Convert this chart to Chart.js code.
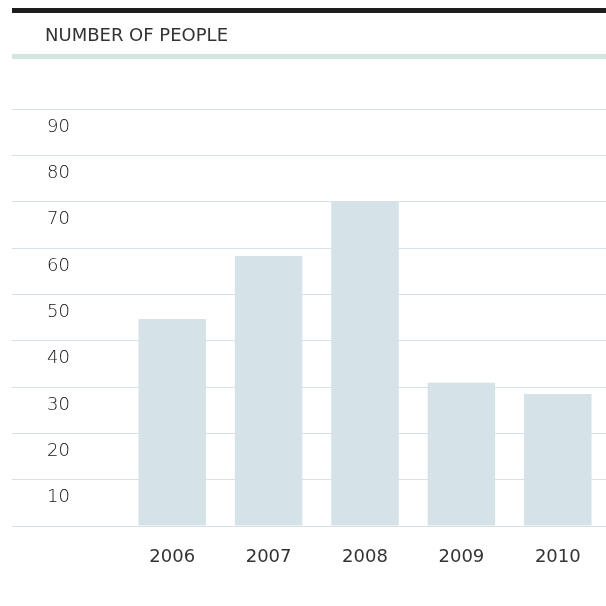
<!DOCTYPE html>
<html>
<head>
<meta charset="utf-8">
<title>Number of people</title>
<script src="https://cdn.jsdelivr.net/npm/chart.js@4"></script>
<style>
  html, body { margin: 0; padding: 0; background: #fff; overflow: hidden; }
  #wrap { position: relative; width: 606px; height: 606px; }
  #topBar { position: absolute; left: 12px; top: 8px; width: 594px; height: 5px; background: #1d1d1d; }
  #chartTitle {
    position: absolute; left: 45px; top: 26px;
    font: 18px/18px "DejaVu Sans", sans-serif; color: #333;
    white-space: nowrap;
  }
  #titleRule { position: absolute; left: 12px; top: 54px; width: 594px; height: 5px; background: #d3e6df; }
  #chart { position: absolute; left: 0; top: 0; }
</style>
</head>
<body>
<div id="wrap">
  <canvas id="chart" width="606" height="606"></canvas>
  <div id="topBar"></div>
  <div id="chartTitle">NUMBER OF PEOPLE</div>
  <div id="titleRule"></div>
</div>
<script>
// ------------------------------------------
// DATA
// ------------------------------------------
const years = ["2006", "2007", "2008", "2009", "2010"];
const people = [44.7, 58.3, 70, 30.9, 28.5];
const yMin = 0;
const yMax = 90;
const yStep = 10;

// ------------------------------------------
// STYLE
// ------------------------------------------
const barColor = "#d5e2e7";
const gridColor = "#d7e1e9";
const labelColor = "#333333";

const ctx = document.getElementById("chart").getContext("2d");

new Chart(ctx, {
  type: "bar",
  data: {
    labels: years,
    datasets: [
      {
        label: "Number of people",
        data: people,
        backgroundColor: barColor,
        borderWidth: 0,
        barPercentage: 0.7,
        categoryPercentage: 1,
      },
    ],
  },
  options: {
    responsive: false,
    animation: false,
    layout: {
      padding: { left: 12, right: -5, top: 109, bottom: 0 },
    },
    plugins: {
      legend: { display: false },
      tooltip: { enabled: false },
    },
    scales: {
      x: {
        grid: { display: false },
        border: { display: false },
        ticks: {
          color: labelColor,
          padding: 13,
          font: { family: "DejaVu Sans", size: 18 },
          maxRotation: 0,
        },
        afterFit: (scale) => {
          scale.height = 80;
        },
      },
      y: {
        min: yMin,
        max: yMax,
        border: { display: false },
        grid: {
          color: gridColor,
          lineWidth: 1,
          drawTicks: true,
          tickLength: 112,
        },
        ticks: {
          stepSize: yStep,
          color: "#111111",
          padding: -58,
          labelOffset: 18,
          font: { family: "DejaVu Sans", size: 18, weight: 200 },
          // the band under each line carries the label, so 0 has none
          callback: (value) => (value === 0 ? "" : value),
        },
        afterFit: (scale) => {
          scale.width = 112;
        },
      },
    },
  },
});
</script>
</body>
</html>
